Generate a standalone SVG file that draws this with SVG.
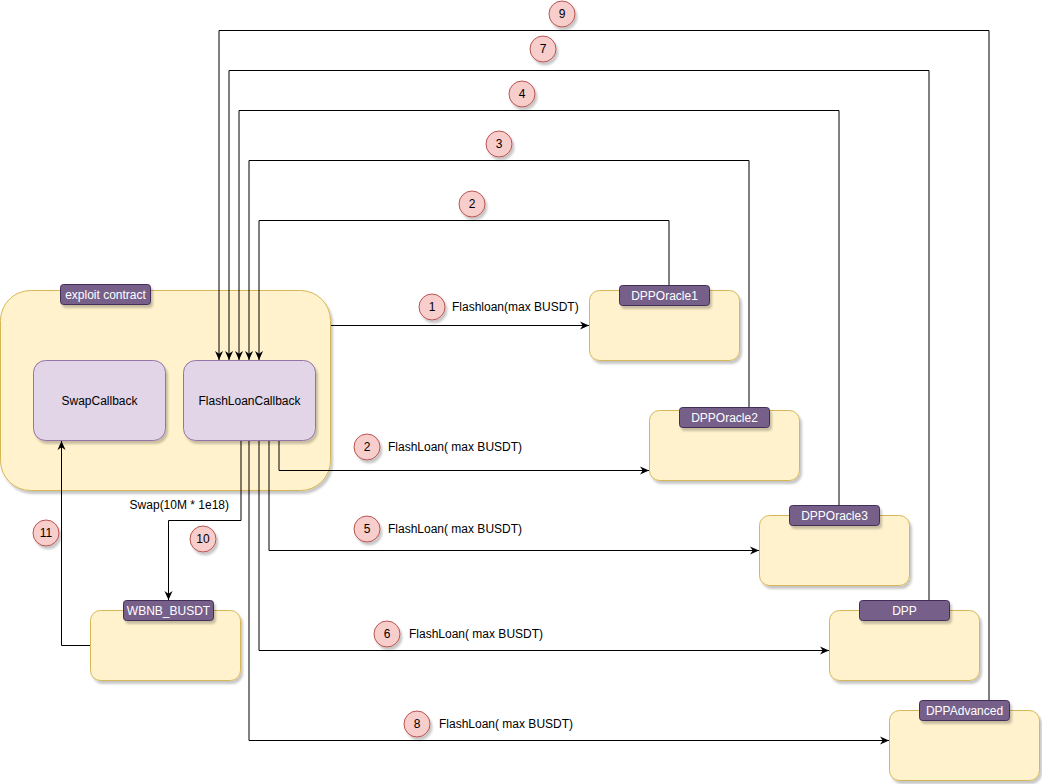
<svg xmlns="http://www.w3.org/2000/svg" width="1042" height="784" viewBox="0 0 1042 784">
<defs>
<filter id="sh" x="-10%" y="-10%" width="130%" height="140%">
<feDropShadow dx="2" dy="3" stdDeviation="1" flood-color="#000" flood-opacity="0.22"/>
</filter>
<marker id="arr" viewBox="0 0 10 10" refX="10" refY="5" markerWidth="9" markerHeight="9" markerUnits="userSpaceOnUse" orient="auto">
<path d="M0,0.5 L10,5 L0,9.5 L3,5 z" fill="#000"/>
</marker>
<style>
.box{fill:#fff2cc;stroke:#d6b656;stroke-width:1;filter:url(#sh)}
.fn{fill:#e1d5e7;stroke:#9673a6;stroke-width:1;filter:url(#sh)}
.lbl{fill:#76608a;stroke:#432d57;stroke-width:1;filter:url(#sh)}
.lt{fill:#fff;font-family:"Liberation Sans",Arial,sans-serif;font-size:12px;text-anchor:middle;dominant-baseline:central}
.t{fill:#000;font-family:"Liberation Sans",Arial,sans-serif;font-size:12px;dominant-baseline:central}
.tc{text-anchor:middle}
.num{fill:#f8cecc;stroke:#b85450;stroke-width:1;filter:url(#sh)}
.c{fill:none;stroke:#000;stroke-width:1;marker-end:url(#arr)}
</style>
</defs>

<g id="exploit-contract">
<rect class="box" x="0.5" y="290.5" width="330" height="200" rx="30" ry="30"/>
<rect class="lbl" x="60.5" y="284.5" width="90" height="20" rx="3"/>
<text class="lt" x="105.5" y="294.5">exploit contract</text>
</g>
<g id="SwapCallback">
<rect class="fn" x="33.5" y="360.5" width="132" height="80" rx="12"/>
<text class="t tc" x="99.5" y="400.5">SwapCallback</text>
</g>
<g id="FlashLoanCallback">
<rect class="fn" x="183.5" y="360.5" width="132" height="80" rx="12"/>
<text class="t tc" x="249.5" y="400.5">FlashLoanCallback</text>
</g>

<g id="DPPOracle1">
<rect class="box" x="589.5" y="290.5" width="150" height="70" rx="10"/>
<rect class="lbl" x="619.5" y="285.5" width="90" height="20" rx="3"/>
<text class="lt" x="664.5" y="295.5">DPPOracle1</text>
</g>
<g id="DPPOracle2">
<rect class="box" x="649.5" y="410.5" width="150" height="70" rx="10"/>
<rect class="lbl" x="679.5" y="407.5" width="90" height="20" rx="3"/>
<text class="lt" x="724.5" y="417.5">DPPOracle2</text>
</g>
<g id="DPPOracle3">
<rect class="box" x="759.5" y="515.5" width="150" height="70" rx="10"/>
<rect class="lbl" x="789.5" y="505.5" width="90" height="20" rx="3"/>
<text class="lt" x="834.5" y="515.5">DPPOracle3</text>
</g>
<g id="DPP">
<rect class="box" x="829.5" y="610.5" width="150" height="70" rx="10"/>
<rect class="lbl" x="859.5" y="600.5" width="90" height="20" rx="3"/>
<text class="lt" x="904.5" y="610.5">DPP</text>
</g>
<g id="DPPAdvanced">
<rect class="box" x="889.5" y="710.5" width="150" height="70" rx="10"/>
<rect class="lbl" x="919.5" y="700.5" width="90" height="20" rx="3"/>
<text class="lt" x="964.5" y="710.5">DPPAdvanced</text>
</g>
<g id="WBNB_BUSDT">
<rect class="box" x="90.5" y="610.5" width="150" height="70" rx="10"/>
<rect class="lbl" x="123.5" y="600.5" width="90" height="20" rx="3"/>
<text class="lt" x="168.5" y="610.5">WBNB_BUSDT</text>
</g>

<g id="connectors">
<path class="c" d="M331,325.5 L589,325.5"/>
<path class="c" d="M669,285 L669,220.5 L259,220.5 L259,360"/>
<path class="c" d="M749,407 L749,160.5 L249,160.5 L249,360"/>
<path class="c" d="M839,505 L839,110.5 L239,110.5 L239,360"/>
<path class="c" d="M929,600 L929,70.5 L229,70.5 L229,360"/>
<path class="c" d="M989,700 L989,30.5 L219,30.5 L219,360"/>
<path class="c" d="M279,441 L279,470.5 L649,470.5"/>
<path class="c" d="M269,441 L269,550.5 L759,550.5"/>
<path class="c" d="M259,441 L259,650.5 L829,650.5"/>
<path class="c" d="M249,441 L249,740.5 L889,740.5"/>
<path class="c" d="M241,441 L241,520.5 L168.5,520.5 L168.5,600"/>
<path class="c" d="M90,645.5 L61.5,645.5 L61.5,441"/>
</g>

<g id="labels">
<circle class="num" cx="562" cy="14" r="13"/><text class="t tc" x="562" y="14">9</text>
<circle class="num" cx="543" cy="49" r="13"/><text class="t tc" x="543" y="49">7</text>
<circle class="num" cx="522" cy="94" r="13"/><text class="t tc" x="522" y="94">4</text>
<circle class="num" cx="499" cy="144" r="13"/><text class="t tc" x="499" y="144">3</text>
<circle class="num" cx="472" cy="204" r="13"/><text class="t tc" x="472" y="204">2</text>
<circle class="num" cx="432" cy="307" r="13"/><text class="t tc" x="432" y="307">1</text>
<text class="t" x="452" y="307">Flashloan(max BUSDT)</text>
<circle class="num" cx="367" cy="447" r="13"/><text class="t tc" x="367" y="447">2</text>
<text class="t" x="388" y="447">FlashLoan( max BUSDT)</text>
<circle class="num" cx="367" cy="529" r="13"/><text class="t tc" x="367" y="529">5</text>
<text class="t" x="388" y="529">FlashLoan( max BUSDT)</text>
<circle class="num" cx="387" cy="634" r="13"/><text class="t tc" x="387" y="634">6</text>
<text class="t" x="409" y="634">FlashLoan( max BUSDT)</text>
<circle class="num" cx="417" cy="724" r="13"/><text class="t tc" x="417" y="724">8</text>
<text class="t" x="439" y="724">FlashLoan( max BUSDT)</text>
<text class="t" x="229" y="505" text-anchor="end">Swap(10M * 1e18)</text>
<circle class="num" cx="203" cy="539" r="13"/><text class="t tc" x="203" y="539">10</text>
<circle class="num" cx="46" cy="533" r="13"/><text class="t tc" x="46" y="533">11</text>
</g>
</svg>
